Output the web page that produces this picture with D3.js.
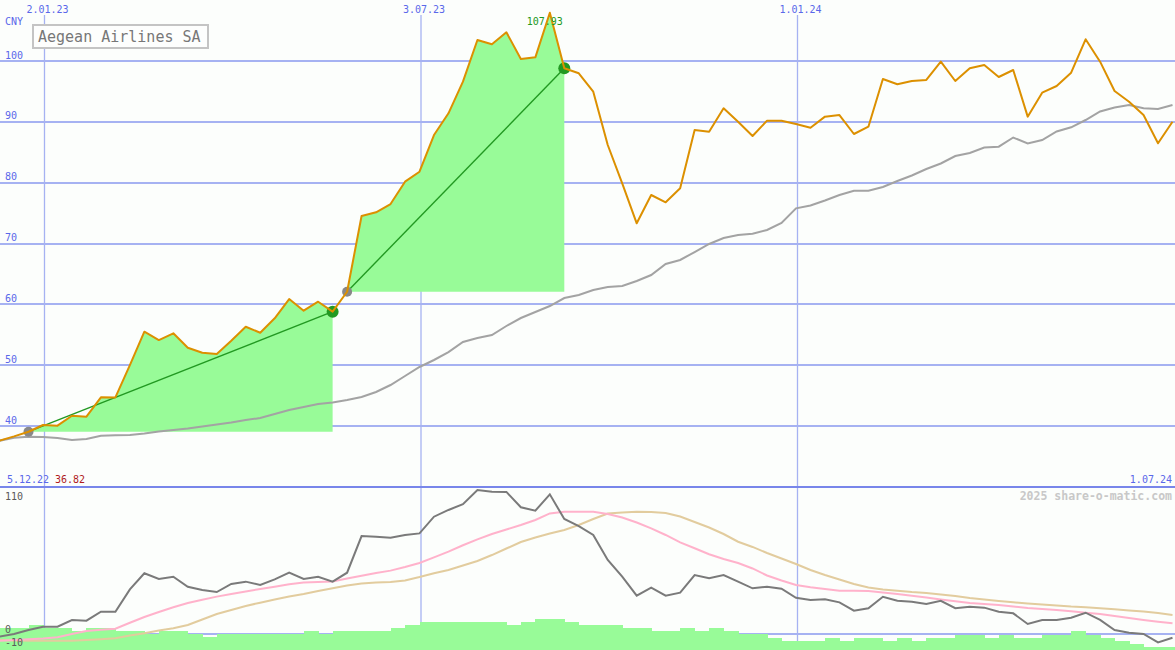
<!DOCTYPE html>
<html><head><meta charset="utf-8">
<script src="https://cdn.jsdelivr.net/npm/d3@7"></script>
<style>html,body{margin:0;padding:0;background:#fcfefc;overflow:hidden}</style>
</head><body><svg id="c" width="1175" height="650"></svg>
<script>
// ---- data (weekly, starting 5.12.22) ----
const startDate = "2022-12-05";
const prices = [36.82,37.6,38.3,39.06,40.16,40.05,41.69,41.53,44.71,44.70,50.02,55.50,54.13,55.24,52.87,52.05,51.83,54.0,56.32,55.33,57.70,60.87,58.95,60.43,58.79,62.07,74.52,75.13,76.49,80.16,81.80,87.83,91.40,96.60,103.45,102.75,104.72,100.33,100.60,107.93,98.80,97.98,94.95,86.19,79.90,73.32,77.97,76.77,79.07,88.66,88.38,92.22,90.02,87.67,90.19,90.19,89.64,89.04,90.85,91.12,88.00,89.20,97.04,96.17,96.71,96.88,99.89,96.71,98.80,99.34,97.37,98.52,90.85,94.79,95.89,98.08,103.57,99.89,95.07,93.31,91.12,86.47,90.02];
const average = [37.3,37.58,38.07,38.24,38.19,38.02,37.69,37.86,38.40,38.47,38.52,38.76,39.09,39.34,39.59,39.91,40.24,40.57,40.98,41.31,41.97,42.63,43.12,43.61,43.86,44.27,44.76,45.59,46.74,48.22,49.70,50.85,52.16,53.81,54.46,54.96,56.44,57.75,58.74,59.72,61.04,61.53,62.35,62.85,63.01,63.83,64.82,66.63,67.29,68.60,69.92,70.90,71.40,71.61,72.22,73.37,75.78,76.25,77.07,77.97,78.68,78.68,79.29,80.27,81.18,82.25,83.15,84.38,84.88,85.78,85.91,87.42,86.44,87.01,88.41,89.10,90.30,91.70,92.36,92.77,92.22,92.11,92.77];
const momentum = [-4.0,-2.2,0,3.3,6.0,6.0,11.6,11.0,18.4,18.4,36.9,50.2,45.5,47.4,39.1,36.4,34.7,41.4,43.3,40.5,45.2,50.7,45.5,47.4,43.3,50.7,81.0,80.5,79.6,81.9,83.2,97.0,102.6,107.3,119.1,117.7,117.5,104.8,102.0,115.5,95.1,89.3,81.9,61.2,47.4,31.7,38.3,31.7,34.2,48.8,46.1,48.8,43.3,37.8,39.1,37.5,30.0,28.1,28.7,26.2,19.3,21.3,30.8,27.5,26.7,24.8,27.5,21.3,22.6,21.8,18.4,17.1,8.3,11.6,11.6,13.5,17.6,11.6,3.3,1.1,0,-6.9,-3.1];
const signalFast = [-5.8,-5.5,-5.0,-4.4,-3.7,-2.7,0,2.5,3.5,4.4,9.3,14.1,18.2,22.1,25.6,28.4,30.9,33.1,35.2,37.2,39.1,41.2,42.6,43.0,43.4,45.9,48.2,50.5,52.4,55.4,58.7,63.4,68.1,73.4,78.3,82.7,86.4,90.2,94.3,99.7,101.2,101.2,101.2,99.3,96.4,92.2,87.4,81.9,75.8,70.9,66.0,62.0,58.7,54.2,48.4,44.3,40.5,38.6,37.2,35.8,35.8,35.6,34.3,33.1,31.7,30.1,28.5,27.0,25.6,24.8,24.0,22.7,21.5,20.7,19.9,18.8,17.6,16.5,14.9,13.2,11.6,10.2,8.9];
const signalSlow = [-5.0,-5.0,-5.4,-5.5,-5.5,-5.5,-5.5,-5.0,-4.4,-3.6,-1.2,0.6,2.9,4.7,7.4,12.0,16.5,19.9,23.2,25.9,28.5,31.0,33.1,35.6,37.8,40.1,41.8,42.6,43.0,44.3,47.1,50.2,52.9,56.7,60.4,65.3,70.7,76.1,79.8,83.1,86.0,90.2,95.1,99.7,100.5,101.2,100.9,100.1,97.2,92.6,88.1,82.7,76.3,72.0,67.0,62.4,57.9,52.9,48.8,45.1,41.4,38.5,36.8,35.8,34.7,33.9,32.7,31.4,29.8,28.5,27.3,26.2,25.2,24.4,23.6,22.7,22.1,21.3,20.4,19.4,18.6,17.4,15.7];
const volume = [21.7,21.7,21.7,25,21.7,21.7,19,21.7,21.7,19,19,16,19,19,16,12.7,16,16,16,16,16,16,19,16,19,19,19,19,21.7,25,28,28,28,28,28,28,25,28,31,31,28,25,25,25,22.3,22.3,19,19,22.3,19,22.3,19,15.7,15.7,12.3,9,9,9,12.3,9,12.3,12.3,9,12.3,9,12.3,12.3,15,15,12.3,15,12.3,12.3,15,15,19,15,12.3,9,6,3.3,3.3,3.3];
const priceTicks = [40,50,60,70,80,90,100];
const oscTicks = [110,0,-10];
const dateTicks = ["2023-01-02","2023-07-03","2024-01-01"];
const dateTickLabels = ["2.01.23","3.07.23","1.01.24"];
const segStarts = ["2022-12-26","2023-05-29"];
const segEnds = ["2023-05-22","2023-09-11"];
const title = "Aegean Airlines SA";
const currency = "CNY";
const firstDateLabel = "5.12.22";
const firstPriceLabel = "36.82";
const lastDateLabel = "1.07.24";
const credit = "2025 share-o-matic.com";

// ---- setup ----
const W = 1175, H = 650;
const FONT = "DejaVu Sans Mono, monospace";
const BLUE = "#5a68ea", GRID = "#a6b2f2";
const svg = d3.select("#c");
svg.append("rect").attr("width",W).attr("height",H).attr("fill","#fcfefc");

const parse = s => new Date(s + "T00:00:00Z");
const t0 = parse(startDate);
const dates = prices.map((_, i) => new Date(t0.getTime() + i * 7 * 864e5));
const idxOf = s => dates.findIndex(d => d.getTime() === parse(s).getTime());

const x = d3.scaleUtc().domain([parse("2023-01-02"), parse("2024-07-01")]).range([44.5, 1174]);
const xd = i => x(dates[i]) - 1.5;
const step = x(parse("2023-01-09")) - x(parse("2023-01-02"));
const y = d3.scaleLinear().domain([40, 100]).range([426, 61]);
const yb = d3.scaleLinear().domain([0, 110]).range([634, 501]);
const yv = d3.scaleLinear().domain([0, 100]).range([650, 550]);

svg.append("defs").html('<clipPath id="cp"><rect x="0" y="0" width="1175" height="486"/></clipPath><clipPath id="cb"><rect x="0" y="488" width="1175" height="162"/></clipPath>');

// horizontal price gridlines
const gY = svg.append("g").call(d3.axisRight(y).tickValues(priceTicks).tickSize(W).tickPadding(0).offset(0));
gY.select(".domain").remove();
gY.selectAll("line").attr("stroke", GRID).attr("stroke-width", 2).attr("shape-rendering","crispEdges");
gY.selectAll("text").attr("x", 5).attr("y", -2.5).attr("dy", null).attr("text-anchor","start")
  .attr("fill", BLUE).style("font-family", FONT).style("font-size","10px");

// vertical date gridlines
const gX = svg.append("g").attr("transform","translate(0,15)")
  .call(d3.axisBottom(x).tickValues(dateTicks.map(parse)).tickSize(H-15).offset(0)
    .tickFormat((d,i) => dateTickLabels[i]));
gX.select(".domain").remove();
gX.selectAll("line").attr("stroke", GRID).attr("stroke-width", 1.3);
gX.selectAll("text").attr("y", -2.5).attr("dy", null).attr("x", 3).attr("text-anchor","middle")
  .attr("fill", BLUE).style("font-family", FONT).style("font-size","10px");

// oscillator zero line
svg.append("line").attr("x1",0).attr("x2",W).attr("y1",yb(0)).attr("y2",yb(0))
  .attr("stroke", GRID).attr("stroke-width",2).attr("shape-rendering","crispEdges");

// ---- price panel ----
const pp = svg.append("g").attr("clip-path","url(#cp)");
const segs = segStarts.map((s, k) => ({a: idxOf(s), b: idxOf(segEnds[k])}));
segs.forEach(s => {
  const idx = d3.range(s.a, s.b + 1);
  const base = prices[s.a];
  pp.append("path").datum(idx)
    .attr("d", d3.area().x(i => xd(i)).y0(y(base)).y1(i => y(prices[i])))
    .attr("fill", "#98fb98");
});
pp.append("path").datum(d3.range(prices.length))
  .attr("d", d3.line().x(i => xd(i)).y(i => y(average[i])))
  .attr("fill","none").attr("stroke","#a3a3a3").attr("stroke-width",2);
segs.forEach(s => {
  pp.append("line").attr("x1", xd(s.a)).attr("y1", y(prices[s.a]))
    .attr("x2", xd(s.b)).attr("y2", y(prices[s.b]))
    .attr("stroke","#229922").attr("stroke-width",1.4);
  pp.append("circle").attr("cx", xd(s.a)).attr("cy", y(prices[s.a])).attr("r",5).attr("fill","#888888");
  pp.append("circle").attr("cx", xd(s.b)).attr("cy", y(prices[s.b])).attr("r",6).attr("fill","#229922");
});
pp.append("path").datum(d3.range(prices.length))
  .attr("d", d3.line().x(i => xd(i)).y(i => y(prices[i])))
  .attr("fill","none").attr("stroke","#dc9000").attr("stroke-width",2).attr("stroke-linejoin","round");

// peak label
const peakI = d3.maxIndex(prices);
svg.append("text").attr("x", xd(peakI) - 5).attr("y", y(prices[peakI]) + 12)
  .attr("text-anchor","middle").attr("fill","#229922")
  .style("font-family",FONT).style("font-size","10px").text(prices[peakI].toFixed(2));

// currency
svg.append("text").attr("x",5).attr("y",25).attr("fill",BLUE)
  .style("font-family",FONT).style("font-size","10px").text(currency);

// legend box
svg.append("rect").attr("x",33).attr("y",25).attr("width",175).attr("height",23)
  .attr("fill","#fdfefd").attr("stroke","#c4c4c4").attr("stroke-width",2);
svg.append("text").attr("x",38).attr("y",42).attr("fill","#777")
  .style("font-family",FONT).style("font-size","15px").text(title);

// separator and range labels
svg.append("line").attr("x1",0).attr("x2",W).attr("y1",487).attr("y2",487)
  .attr("stroke","#7886ea").attr("stroke-width",2).attr("shape-rendering","crispEdges");
svg.append("text").attr("x",7).attr("y",483).attr("fill",BLUE)
  .style("font-family",FONT).style("font-size","10px").text(firstDateLabel);
svg.append("text").attr("x",55).attr("y",483).attr("fill","#b01c1c")
  .style("font-family",FONT).style("font-size","10px").text(firstPriceLabel);
svg.append("text").attr("x",1172).attr("y",483).attr("text-anchor","end").attr("fill",BLUE)
  .style("font-family",FONT).style("font-size","10px").text(lastDateLabel);
svg.append("text").attr("x",1172).attr("y",500).attr("text-anchor","end").attr("fill","#c8c8c8")
  .style("font-family",FONT).style("font-size","11.5px").style("font-weight","bold").text(credit);

// ---- oscillator panel ----
const bp = svg.append("g").attr("clip-path","url(#cb)");
bp.selectAll("rect.vol").data(volume).join("rect").attr("class","vol")
  .attr("x", (d,i) => xd(i)).attr("width", step + 0.5)
  .attr("y", d => yv(d)).attr("height", d => yv(0) - yv(d))
  .attr("fill","#98fb98").attr("shape-rendering","crispEdges");
const lineB = arr => d3.line().x(i => xd(i)).y(i => yb(arr[i]));
const allI = d3.range(prices.length);
bp.append("path").datum(allI).attr("d", lineB(signalSlow))
  .attr("fill","none").attr("stroke","#e2cc9e").attr("stroke-width",2);
bp.append("path").datum(allI).attr("d", lineB(signalFast))
  .attr("fill","none").attr("stroke","#ffb2cb").attr("stroke-width",2);
bp.append("path").datum(allI).attr("d", lineB(momentum))
  .attr("fill","none").attr("stroke","#7a7a7a").attr("stroke-width",2);

svg.selectAll("text.osc").data(oscTicks).join("text").attr("class","osc")
  .attr("x",5).attr("y", d => yb(d) - (d === -10 ? 0 : 1)).attr("fill","#5a5a5a")
  .style("font-family",FONT).style("font-size","10px").text(d => d);
</script></body></html>
